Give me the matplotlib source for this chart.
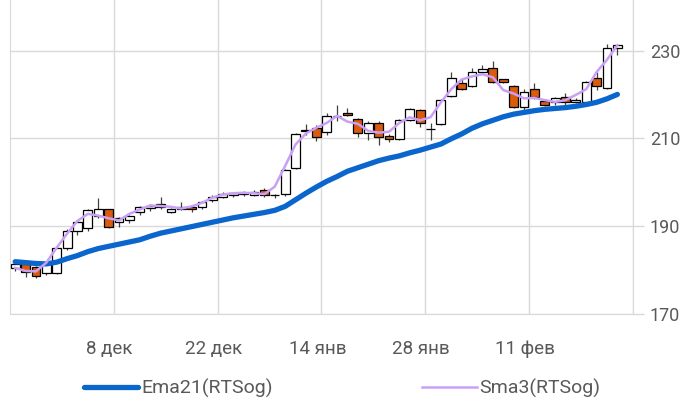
import matplotlib
matplotlib.use("Agg")
import matplotlib.pyplot as plt
import numpy as np

plt.rcParams['font.family'] = ['Roboto', 'DejaVu Sans']

# daily candles (trading days only)
opens = [180.4, 181.4, 180.7, 179.3, 179.3, 185.0, 188.8, 189.6, 192.3, 193.8,
         190.9, 191.4, 193.2, 194.1, 194.3, 193.2, 193.9, 194.4, 194.4, 196.0,
         196.7, 197.1, 197.3, 197.2, 198.2, 197.1, 197.3, 203.3, 211.6, 212.4,
         211.5, 215.0, 215.7, 214.3, 211.1, 213.4, 210.5, 209.8, 214.2, 216.4,
         212.2, 213.2, 219.7, 222.7, 222.0, 225.0, 226.0, 223.4, 222.0, 217.2,
         221.2, 218.5, 218.2, 219.5, 218.3, 218.3, 223.8, 221.5, 230.6]
highs = [181.6, 181.8, 181.0, 181.8, 185.4, 189.3, 191.5, 194.0, 196.3, 194.0,
         192.0, 192.5, 194.5, 195.0, 196.7, 194.2, 195.6, 194.8, 195.8, 197.0,
         197.7, 197.8, 198.0, 198.2, 198.6, 197.4, 203.0, 211.3, 213.3, 213.0,
         215.8, 217.6, 217.0, 214.6, 214.0, 214.0, 211.0, 214.4, 216.8, 216.6,
         213.6, 218.9, 225.2, 223.6, 226.1, 226.6, 227.7, 223.6, 222.2, 221.2,
         222.6, 219.0, 219.4, 220.3, 219.2, 223.0, 225.2, 231.4, 231.5]
lows = [179.8, 178.4, 178.2, 178.8, 179.0, 184.6, 188.0, 189.0, 191.8, 189.5,
        189.9, 190.8, 192.5, 193.5, 193.8, 192.9, 193.6, 193.2, 194.0, 195.6,
        196.3, 196.7, 196.9, 196.8, 196.6, 196.5, 196.8, 203.0, 210.8, 209.3,
        210.8, 214.0, 215.0, 210.4, 209.6, 208.5, 209.2, 209.6, 213.9, 212.6,
        209.6, 213.0, 219.4, 221.0, 221.8, 224.6, 222.6, 222.6, 217.0, 216.4,
        219.0, 217.3, 217.7, 217.7, 218.0, 218.0, 221.0, 221.3, 229.0]
closes = [181.3, 179.6, 178.6, 181.4, 185.0, 189.0, 191.0, 193.7, 193.8, 189.8,
          191.8, 192.3, 194.3, 194.7, 195.1, 193.9, 194.3, 193.8, 195.5, 196.7,
          197.4, 197.5, 197.6, 197.8, 197.0, 197.2, 202.8, 211.0, 211.9, 210.3,
          215.0, 215.1, 215.3, 211.1, 213.6, 210.4, 209.8, 214.2, 216.6, 213.6,
          212.2, 218.7, 223.7, 221.2, 225.2, 225.8, 222.9, 222.9, 217.2, 220.6,
          219.4, 217.6, 219.1, 218.3, 218.7, 222.8, 222.0, 230.5, 231.2]

ema21 = [181.9, 181.7, 181.5, 181.4, 181.8, 182.6, 183.3, 184.2, 184.9, 185.4,
         185.9, 186.4, 186.9, 187.7, 188.4, 188.9, 189.4, 189.9, 190.4, 190.9,
         191.4, 191.9, 192.3, 192.7, 193.1, 193.6, 194.5, 196.0, 197.5, 198.9,
         200.2, 201.3, 202.5, 203.3, 204.1, 204.9, 205.5, 206.0, 206.7, 207.3,
         208.0, 208.7, 209.9, 211.0, 212.3, 213.3, 214.1, 214.9, 215.5, 215.9,
         216.3, 216.6, 216.8, 217.0, 217.3, 217.7, 218.2, 219.0, 220.0]
sma3 = [180.5, 179.8, 179.7, 181.7, 185.1, 188.3, 191.2, 192.8, 192.4, 191.8,
        191.3, 192.8, 193.8, 194.7, 194.6, 194.4, 194.0, 194.5, 195.3, 196.5,
        197.2, 197.5, 197.6, 197.5, 197.3, 199.0, 203.7, 208.6, 211.1, 212.4,
        213.5, 215.1, 213.8, 213.3, 211.7, 211.3, 211.5, 213.5, 214.8, 214.1,
        214.8, 218.2, 221.2, 223.4, 224.1, 224.6, 223.9, 221.0, 220.2, 219.1,
        219.2, 218.7, 218.3, 218.7, 219.9, 221.2, 225.1, 227.9, 231.2]

tick_labels = ['8 дек', '22 дек', '14 янв', '28 янв', '11 фев']

x = np.arange(len(closes))
o = np.array(opens)
c = np.array(closes)
up = c >= o
body_col = np.where(up, 'white', '#DA5B0C')

fig = plt.figure(figsize=(6.84, 4.01), dpi=100)
ax = fig.add_axes([0.0146, 0.217, 0.9108, 0.783])

ax.vlines(x, lows, highs, color='#404040', lw=0.9, zorder=2)
ax.bar(x, np.abs(c - o), bottom=np.minimum(o, c), width=0.85,
       color=body_col, edgecolor='black', linewidth=0.9, zorder=3)

ax.plot(x, ema21, color='#0A66CC', lw=3.8, solid_capstyle='round', zorder=4,
        label='Ema21(RTSog)')
ax.plot(x, sma3, color='#C9A0F5', lw=1.8, zorder=5, label='Sma3(RTSog)')

ax.set_xlim(-0.5, 59.5)
ax.set_ylim(170, 241.5)

grid_x = [9.5, 19.5, 29.5, 39.5, 49.5, 59.5]
ax.set_xticks(grid_x, minor=True)
ax.set_xticks([g - 0.4 for g in grid_x[:5]])
ax.set_xticklabels(tick_labels)
ax.grid(True, which='minor', axis='x', color='#d9d9d9', lw=1)
ax.tick_params(axis='x', which='both', length=0, pad=19, labelsize=13.5,
               labelcolor='#595959')

ax.set_yticks([170, 190, 210, 230])
ax.yaxis.tick_right()
ax.grid(True, axis='y', color='#d9d9d9', lw=1)
ax.tick_params(axis='y', length=8, width=1, color='#d9d9d9', pad=4,
               labelsize=13, labelcolor='#595959')
ax.set_axisbelow(True)

ax.spines['top'].set_visible(False)
for s in ['left', 'right', 'bottom']:
    ax.spines[s].set_color('#d9d9d9')

fig.legend(loc='center', bbox_to_anchor=(0.5, 0.032), ncol=2, frameon=False,
           fontsize=14, labelcolor='#595959', handlelength=2.8,
           handletextpad=0.15, columnspacing=7.7)

fig.savefig('out.png', dpi=100)
